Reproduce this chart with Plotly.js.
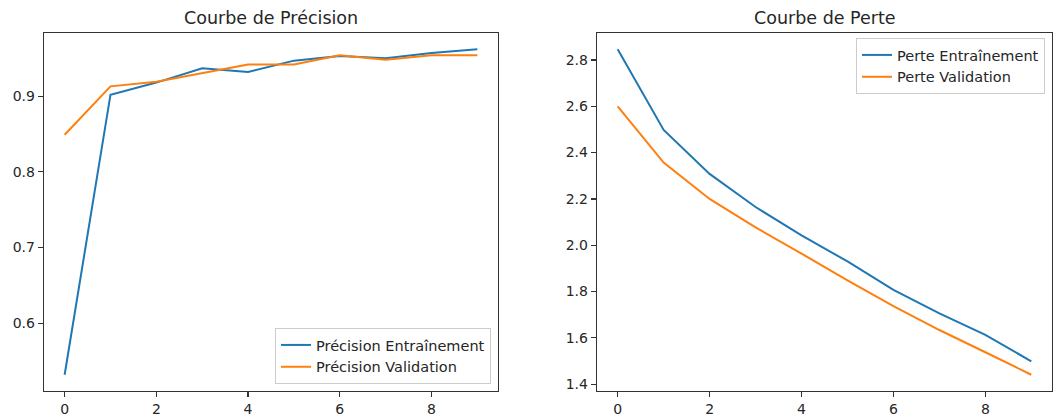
<!DOCTYPE html>
<html>
<head>
<meta charset="utf-8">
<script src="https://cdn.plot.ly/plotly-3.0.1.min.js"></script>
<style>html,body{margin:0;padding:0;background:#fff;}#chart{width:1059px;height:417px;}</style>
</head>
<body>
<div id="chart"></div>
<script>
const epochs = [0, 1, 2, 3, 4, 5, 6, 7, 8, 9];
const precisionTrain = [0.532, 0.902, 0.918, 0.937, 0.932, 0.947, 0.953, 0.950, 0.957, 0.962];
const precisionVal   = [0.849, 0.913, 0.919, 0.930, 0.942, 0.942, 0.954, 0.948, 0.954, 0.954];
const perteTrain = [2.846, 2.498, 2.308, 2.165, 2.043, 1.930, 1.807, 1.706, 1.613, 1.499];
const perteVal   = [2.600, 2.357, 2.200, 2.077, 1.964, 1.848, 1.737, 1.634, 1.538, 1.441];
const xTicks = [0, 2, 4, 6, 8];
const titles = ["Courbe de Précision", "Courbe de Perte"];
const names = ["Précision Entraînement", "Précision Validation", "Perte Entraînement", "Perte Validation"];

const BLUE = '#1f77b4', ORANGE = '#ff7f0e', TXT = '#262626';
const FONT = 'DejaVu Sans, sans-serif';

function pad(arr) {
  const mn = Math.min(...arr), mx = Math.max(...arr), m = (mx - mn) * 0.05;
  return [mn - m, mx + m];
}
const xr = [-0.45, 9.45];

const traces = [
  {x: epochs, y: precisionTrain, name: names[0], mode: 'lines', line: {color: BLUE, width: 2}, xaxis: 'x', yaxis: 'y', legend: 'legend'},
  {x: epochs, y: precisionVal, name: names[1], mode: 'lines', line: {color: ORANGE, width: 2}, xaxis: 'x', yaxis: 'y', legend: 'legend'},
  {x: epochs, y: perteTrain, name: names[2], mode: 'lines', line: {color: BLUE, width: 2}, xaxis: 'x2', yaxis: 'y2', legend: 'legend2'},
  {x: epochs, y: perteVal, name: names[3], mode: 'lines', line: {color: ORANGE, width: 2}, xaxis: 'x2', yaxis: 'y2', legend: 'legend2'}
];

const axBase = {
  showgrid: false, zeroline: false, showline: true, mirror: true,
  linecolor: '#333', linewidth: 1.3, ticks: 'outside', ticklen: 5, tickwidth: 1.2,
  tickcolor: '#333', tickfont: {family: FONT, size: 14, color: TXT}
};
const legBase = {
  bgcolor: 'rgba(255,255,255,0.8)', bordercolor: '#cccccc', borderwidth: 1,
  font: {family: FONT, size: 14.5, color: TXT}, itemwidth: 30, tracegroupgap: 0
};

const l = 44, r = 7, t = 33, b = 26, W = 1059, H = 417;
const pw = W - l - r, ph = H - t - b;
const d1 = [0, (498 - l) / pw], d2 = [(597 - l) / pw, 1];

const layout = {
  width: W, height: H,
  margin: {l: l, r: r, t: t, b: b},
  paper_bgcolor: '#fff', plot_bgcolor: '#fff',
  font: {family: FONT, color: TXT},
  xaxis: Object.assign({}, axBase, {domain: d1, range: xr, tickvals: xTicks, anchor: 'y'}),
  yaxis: Object.assign({}, axBase, {domain: [0, 1], range: pad(precisionTrain.concat(precisionVal)), dtick: 0.1, tickformat: '.1f', anchor: 'x'}),
  xaxis2: Object.assign({}, axBase, {domain: d2, range: xr, tickvals: xTicks, anchor: 'y2'}),
  yaxis2: Object.assign({}, axBase, {domain: [0, 1], range: pad(perteTrain.concat(perteVal)), dtick: 0.2, tickformat: '.1f', anchor: 'x2'}),
  legend: Object.assign({}, legBase, {x: (491 - l) / pw, xanchor: 'right', y: (391 - 384) / ph, yanchor: 'bottom'}),
  legend2: Object.assign({}, legBase, {x: (1045 - l) / pw, xanchor: 'right', y: 1 - (38 - t) / ph, yanchor: 'top'}),
  showlegend: true,
  annotations: [
    {text: titles[0], xref: 'paper', yref: 'paper', x: (d1[0] + d1[1]) / 2, y: 1, xanchor: 'center', yanchor: 'bottom', yshift: 3, showarrow: false, font: {family: FONT, size: 17.5, color: TXT}},
    {text: titles[1], xref: 'paper', yref: 'paper', x: (d2[0] + d2[1]) / 2, y: 1, xanchor: 'center', yanchor: 'bottom', yshift: 3, showarrow: false, font: {family: FONT, size: 17.5, color: TXT}}
  ]
};

Plotly.newPlot('chart', traces, layout, {displayModeBar: false, staticPlot: true});
</script>
</body>
</html>
